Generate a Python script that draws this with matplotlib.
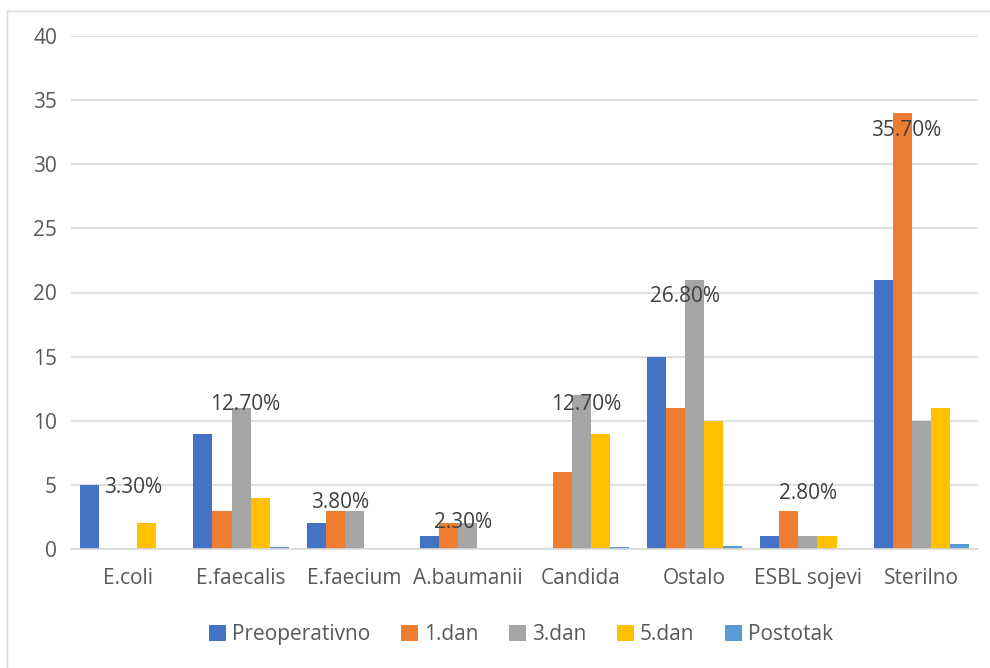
import numpy as np
import matplotlib
matplotlib.use('Agg')
import matplotlib.pyplot as plt
from matplotlib.lines import Line2D

categories = ['E.coli', 'E.faecalis', 'E.faecium', 'A.baumanii', 'Candida',
              'Ostalo', 'ESBL sojevi', 'Sterilno']
series_names = ['Preoperativno', '1.dan', '3.dan', '5.dan', 'Postotak']
preoperativno = [5, 9, 2, 1, 0, 15, 1, 21]
dan1 = [0, 3, 3, 2, 6, 11, 3, 34]
dan3 = [0, 11, 3, 2, 12, 21, 1, 10]
dan5 = [2, 4, 0, 0, 9, 10, 1, 11]
postotak = [0.033, 0.127, 0.038, 0.023, 0.127, 0.268, 0.028, 0.357]
postotak_labels = ['3.30%', '12.70%', '3.80%', '2.30%', '12.70%', '26.80%', '2.80%', '35.70%']
# manually placed label positions (offset from group centre, height)
label_dx = [0.05, 0.04, -0.13, -0.04, 0.04, -0.08, 0.0, -0.13]
label_y = [4.8, 11.3, 3.6, 2.1, 11.3, 19.7, 4.3, 32.6]

colors = ['#4472C4', '#ED7D31', '#A5A5A5', '#FFC000', '#5B9BD5']
text_col = '#595959'

plt.rcParams['font.family'] = ['Open Sans', 'DejaVu Sans']

fig = plt.figure(figsize=(9.9, 6.68), dpi=100)
ax = fig.add_axes([71 / 990, 1 - 549 / 668, (978 - 71) / 990, (549 - 36) / 668])

x = np.arange(len(categories))
w = 0.168
data = [preoperativno, dan1, dan3, dan5, postotak]
for i, (vals, name, c) in enumerate(zip(data, series_names, colors)):
    ax.bar(x + (i - 2) * w, vals, width=w, color=c, label=name, zorder=2)

for xi, dx, y, t in zip(x, label_dx, label_y, postotak_labels):
    ax.text(xi + dx, y, t, ha='center', va='center', fontsize=15, color='#404040', zorder=3)

ax.set_xlim(-0.5, len(categories) - 0.5)
ax.set_ylim(0, 40)
ax.set_yticks(range(0, 41, 5))
ax.yaxis.grid(True, color='#D9D9D9', linewidth=1.2, zorder=0)
ax.set_axisbelow(True)
for s in ['top', 'right', 'left']:
    ax.spines[s].set_visible(False)
ax.spines['bottom'].set_color('#D9D9D9')
ax.spines['bottom'].set_linewidth(1.2)
ax.tick_params(axis='both', length=0, labelsize=15, colors=text_col)
ax.tick_params(axis='y', pad=10)
ax.tick_params(axis='x', pad=14)
ax.set_xticks(x)
ax.set_xticklabels(categories)

ax.legend(loc='center', bbox_to_anchor=(0.496, -0.167), ncol=5, frameon=False,
          fontsize=15, handlelength=0.82, handleheight=0.82, handletextpad=0.3,
          columnspacing=1.45, labelcolor=text_col)

# chart frame (left and top edge)
fig.add_artist(Line2D([7 / 990, 7 / 990], [0, 1 - 11 / 668], color='#D9D9D9', lw=1))
fig.add_artist(Line2D([7 / 990, 1], [1 - 11 / 668, 1 - 11 / 668], color='#D9D9D9', lw=1))

fig.savefig('out.png', dpi=100)
